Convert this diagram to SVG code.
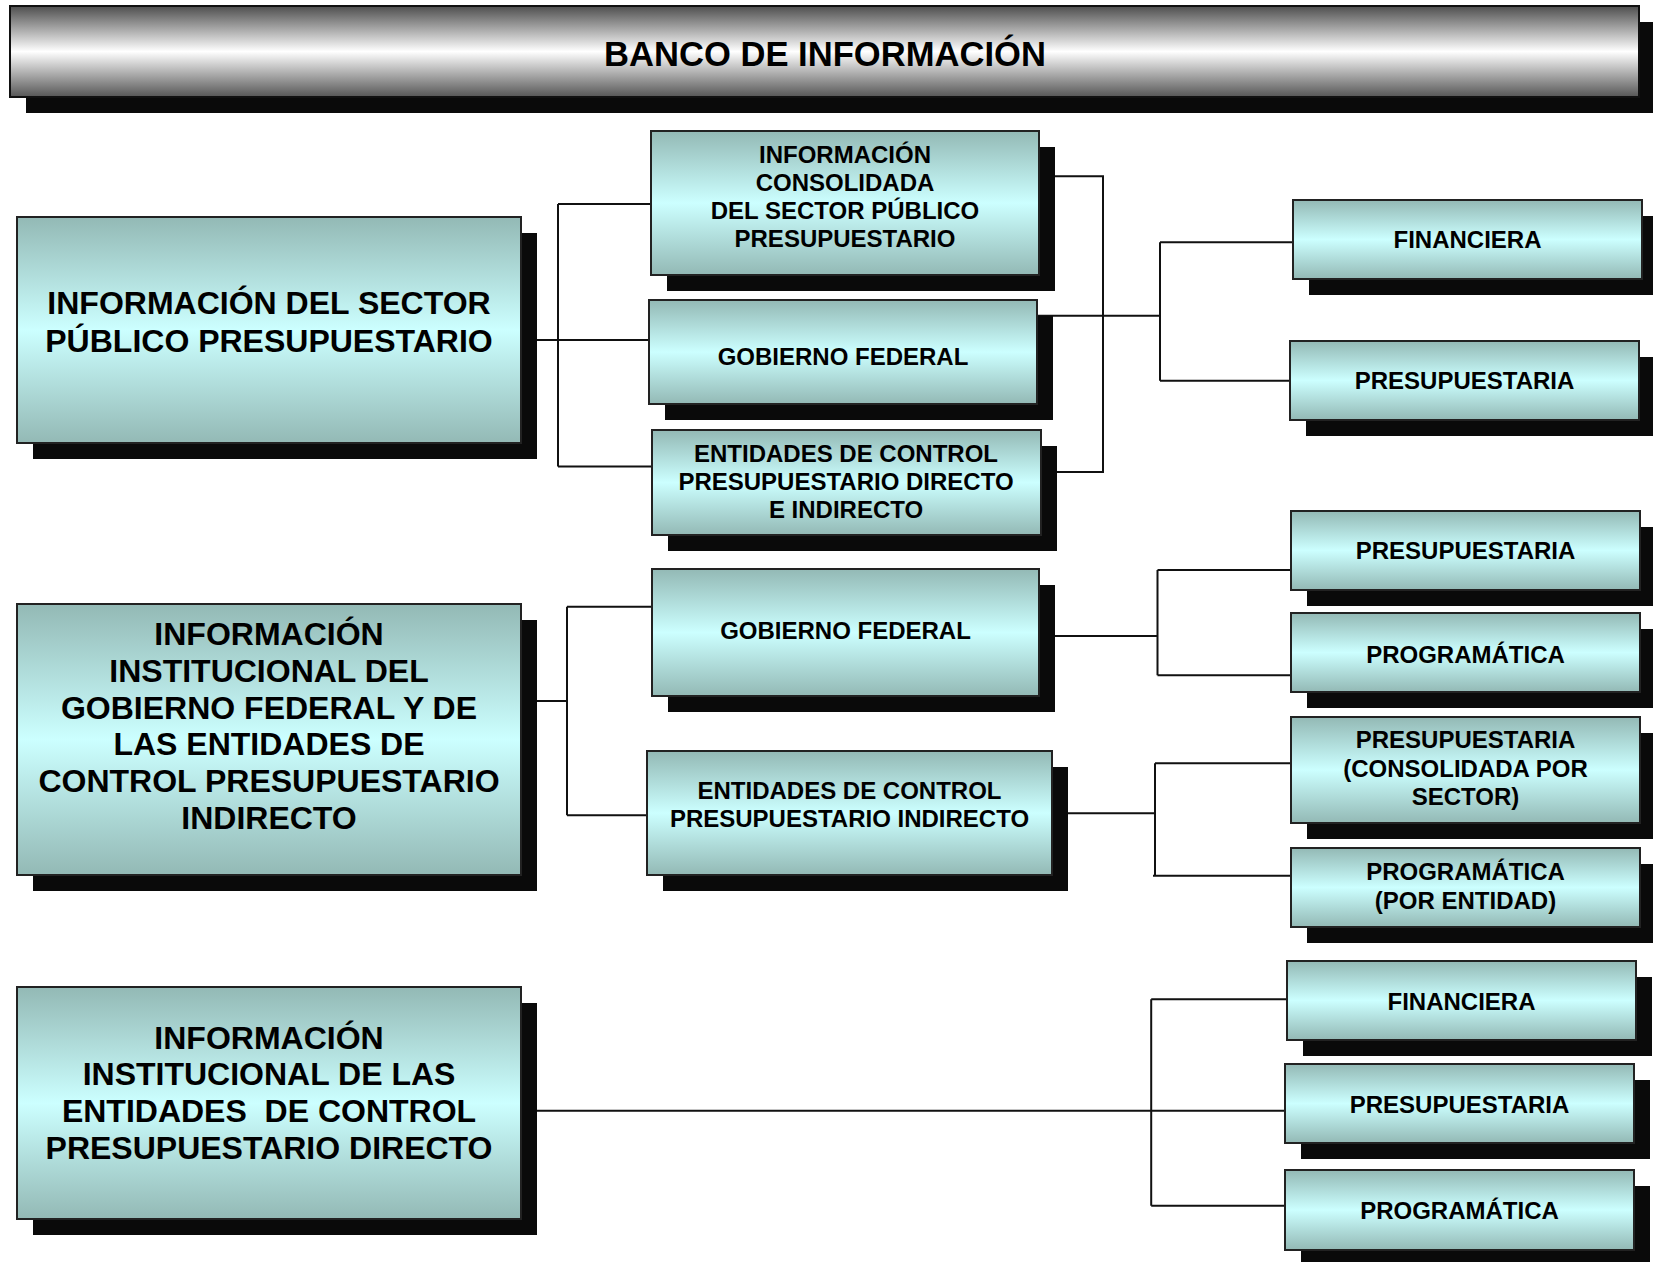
<svg xmlns="http://www.w3.org/2000/svg" width="1653" height="1262" viewBox="0 0 1653 1262">
<defs>
<linearGradient id="teal" x1="0" y1="0" x2="0" y2="1">
<stop offset="0" stop-color="#93b9b5"/>
<stop offset="0.5" stop-color="#ccffff"/>
<stop offset="1" stop-color="#93b9b5"/>
</linearGradient>
<linearGradient id="gray" x1="0" y1="0" x2="0" y2="1">
<stop offset="0" stop-color="#4e4e4e"/>
<stop offset="0.5" stop-color="#ffffff"/>
<stop offset="1" stop-color="#565656"/>
</linearGradient>
</defs>
<style>
.sh{fill:#0a0a0a}
.bx{fill:url(#teal);stroke:#222;stroke-width:2}
.tb{fill:url(#gray);stroke:#111;stroke-width:2}
text{font-family:"Liberation Sans",Arial,sans-serif;font-weight:bold;fill:#000;text-anchor:middle}
.big{font-size:32px}
.sm{font-size:24px}
.ttl{font-size:34.6px}
.cn{fill:none;stroke:#111;stroke-width:2}
</style>
<rect width="1653" height="1262" fill="#fff"/>

<g id="connectors">
<path class="cn" d="M521 340H649M558 204V466.5M558 204H651M558 466.5H652"/>
<path class="cn" d="M1039 176.3H1103V472H1041M1037 315.7H1160M1160 242.3V380.7M1160 242.3H1293M1160 380.7H1290"/>
<path class="cn" d="M521 701H567M567 606.7V815.3M567 606.7H652M567 815.3H647"/>
<path class="cn" d="M1039 636H1157.5M1157.5 570V675.3M1157.5 570H1291M1157.5 675.3H1291"/>
<path class="cn" d="M1052 813.3H1155M1155 763.3V875.7M1155 763.3H1291M1153 875.7H1291"/>
<path class="cn" d="M521 1110.7H1285M1151.2 999.3V1205.7M1151.2 999.3H1287M1151.2 1205.7H1285"/>
</g>

<g id="title">
<rect class="sh" x="26" y="22" width="1629" height="91"/>
<rect class="tb" x="10" y="6" width="1629" height="91"/>
<text class="ttl" x="825" y="66">BANCO DE INFORMACIÓN</text>
</g>

<g id="left1">
<rect class="sh" x="33" y="233" width="504" height="226"/>
<rect class="bx" x="17" y="217" width="504" height="226"/>
<text class="big" x="269" y="314">INFORMACIÓN DEL SECTOR</text>
<text class="big" x="269" y="352">PÚBLICO PRESUPUESTARIO</text>
</g>

<g id="left2">
<rect class="sh" x="33" y="620" width="504" height="271"/>
<rect class="bx" x="17" y="604" width="504" height="271"/>
<text class="big" x="269" y="645">INFORMACIÓN</text>
<text class="big" x="269" y="681.8">INSTITUCIONAL DEL</text>
<text class="big" x="269" y="718.6">GOBIERNO FEDERAL Y DE</text>
<text class="big" x="269" y="755.4">LAS ENTIDADES DE</text>
<text class="big" x="269" y="792.2">CONTROL PRESUPUESTARIO</text>
<text class="big" x="269" y="829">INDIRECTO</text>
</g>

<g id="left3">
<rect class="sh" x="33" y="1003" width="504" height="232"/>
<rect class="bx" x="17" y="987" width="504" height="232"/>
<text class="big" x="269" y="1048.5">INFORMACIÓN</text>
<text class="big" x="269" y="1085.4">INSTITUCIONAL DE LAS</text>
<text class="big" x="269" y="1122.3" xml:space="preserve">ENTIDADES  DE CONTROL</text>
<text class="big" x="269" y="1159.2">PRESUPUESTARIO DIRECTO</text>
</g>

<g id="m1">
<rect class="sh" x="667" y="147" width="388" height="144"/>
<rect class="bx" x="651" y="131" width="388" height="144"/>
<text class="sm" x="845" y="163.3">INFORMACIÓN</text>
<text class="sm" x="845" y="191">CONSOLIDADA</text>
<text class="sm" x="845" y="219">DEL SECTOR PÚBLICO</text>
<text class="sm" x="845" y="246.7">PRESUPUESTARIO</text>
</g>

<g id="m2">
<rect class="sh" x="665" y="316" width="388" height="104"/>
<rect class="bx" x="649" y="300" width="388" height="104"/>
<text class="sm" x="843" y="365">GOBIERNO FEDERAL</text>
</g>

<g id="m3">
<rect class="sh" x="668" y="446" width="389" height="105"/>
<rect class="bx" x="652" y="430" width="389" height="105"/>
<text class="sm" x="846" y="461.7">ENTIDADES DE CONTROL</text>
<text class="sm" x="846" y="490">PRESUPUESTARIO DIRECTO</text>
<text class="sm" x="846" y="517.7">E INDIRECTO</text>
</g>

<g id="m4">
<rect class="sh" x="668" y="585" width="387" height="127"/>
<rect class="bx" x="652" y="569" width="387" height="127"/>
<text class="sm" x="845.5" y="639.3">GOBIERNO FEDERAL</text>
</g>

<g id="m5">
<rect class="sh" x="663" y="767" width="405" height="124"/>
<rect class="bx" x="647" y="751" width="405" height="124"/>
<text class="sm" x="849.5" y="799.3">ENTIDADES DE CONTROL</text>
<text class="sm" x="849.5" y="827.3">PRESUPUESTARIO INDIRECTO</text>
</g>

<g id="r1">
<rect class="sh" x="1309" y="216" width="349" height="79"/>
<rect class="bx" x="1293" y="200" width="349" height="79"/>
<text class="sm" x="1467.5" y="248.3">FINANCIERA</text>
</g>

<g id="r2">
<rect class="sh" x="1306" y="357" width="349" height="79"/>
<rect class="bx" x="1290" y="341" width="349" height="79"/>
<text class="sm" x="1464.5" y="389.3">PRESUPUESTARIA</text>
</g>

<g id="r3">
<rect class="sh" x="1307" y="527" width="349" height="79"/>
<rect class="bx" x="1291" y="511" width="349" height="79"/>
<text class="sm" x="1465.5" y="559.3">PRESUPUESTARIA</text>
</g>

<g id="r4">
<rect class="sh" x="1307" y="629" width="349" height="79"/>
<rect class="bx" x="1291" y="613" width="349" height="79"/>
<text class="sm" x="1465.5" y="662.7">PROGRAMÁTICA</text>
</g>

<g id="r5">
<rect class="sh" x="1307" y="733" width="349" height="106"/>
<rect class="bx" x="1291" y="717" width="349" height="106"/>
<text class="sm" x="1465.5" y="748.3">PRESUPUESTARIA</text>
<text class="sm" x="1465.5" y="777.3">(CONSOLIDADA POR</text>
<text class="sm" x="1465.5" y="805">SECTOR)</text>
</g>

<g id="r6">
<rect class="sh" x="1307" y="864" width="349" height="79"/>
<rect class="bx" x="1291" y="848" width="349" height="79"/>
<text class="sm" x="1465.5" y="880">PROGRAMÁTICA</text>
<text class="sm" x="1465.5" y="909.3">(POR ENTIDAD)</text>
</g>

<g id="r7">
<rect class="sh" x="1303" y="977" width="349" height="79"/>
<rect class="bx" x="1287" y="961" width="349" height="79"/>
<text class="sm" x="1461.5" y="1010">FINANCIERA</text>
</g>

<g id="r8">
<rect class="sh" x="1301" y="1080" width="349" height="79"/>
<rect class="bx" x="1285" y="1064" width="349" height="79"/>
<text class="sm" x="1459.5" y="1113.3">PRESUPUESTARIA</text>
</g>

<g id="r9">
<rect class="sh" x="1301" y="1186" width="349" height="80"/>
<rect class="bx" x="1285" y="1170" width="349" height="80"/>
<text class="sm" x="1459.5" y="1219.3">PROGRAMÁTICA</text>
</g>
</svg>
